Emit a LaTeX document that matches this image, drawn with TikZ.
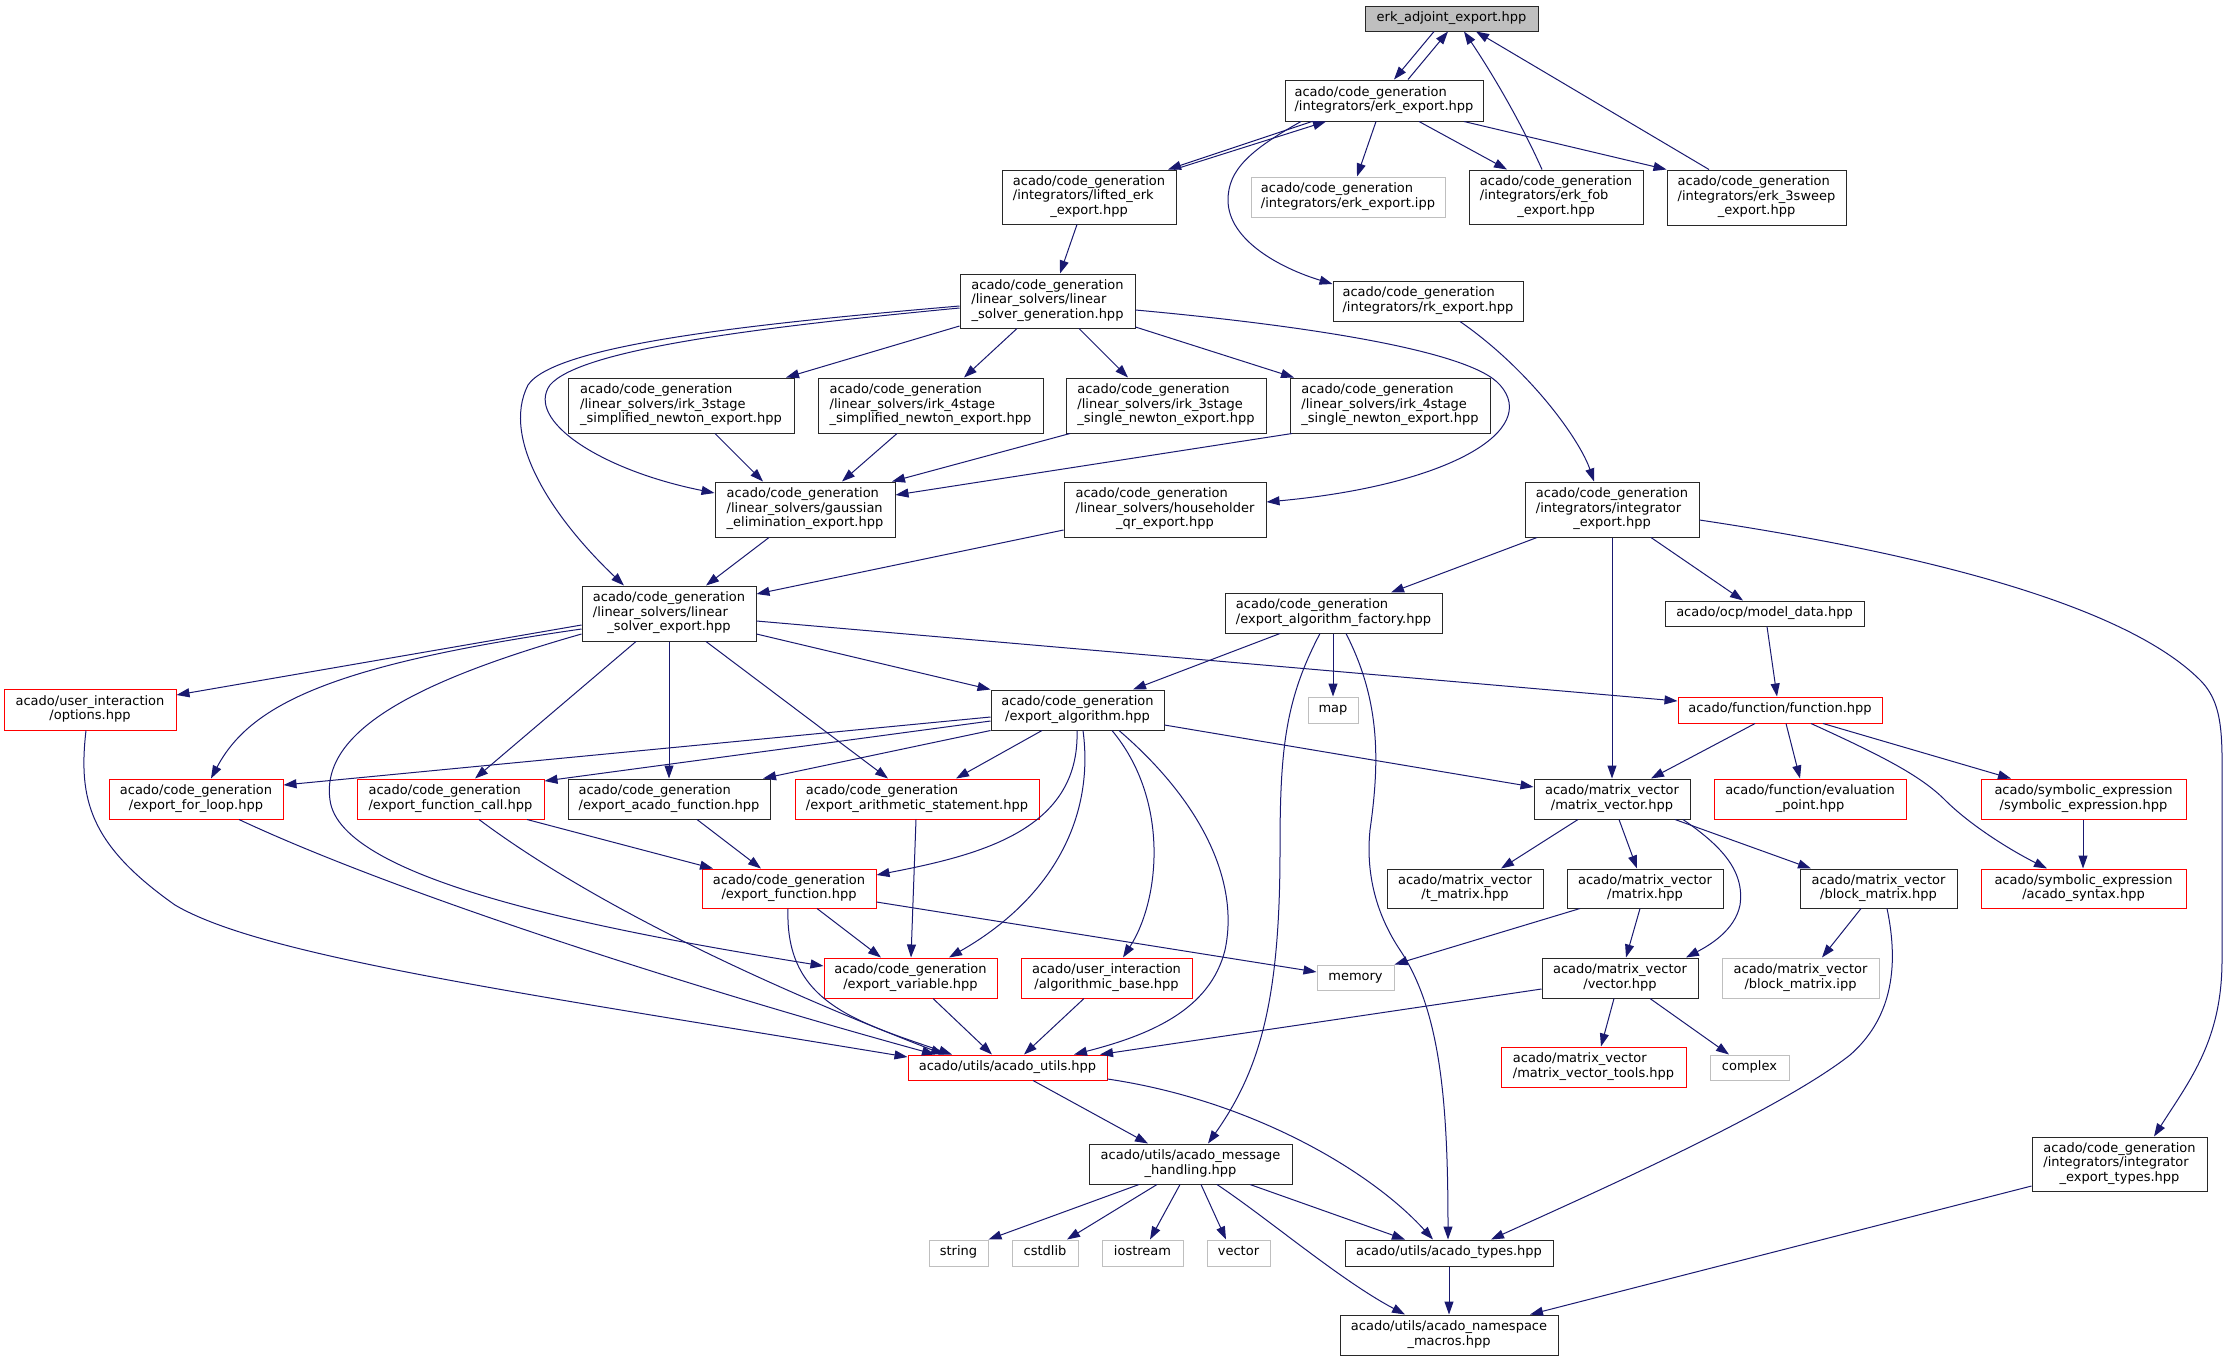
\documentclass[tikz,border=0pt]{standalone}
\usepackage{fontspec}
\setmainfont{DejaVu Sans}
\usetikzlibrary{arrows.meta}
\definecolor{edgec}{RGB}{25,25,112}
\definecolor{grayb}{RGB}{191,191,191}
\definecolor{nodeb}{RGB}{40,40,40}
\newcommand\Tl[2]{\begin{tabular}{@{}l@{}}#1\\\multicolumn{1}{@{}c@{}}{#2}\end{tabular}}
\newcommand\Ts[1]{\begin{tabular}{@{}c@{}}#1\end{tabular}}
\newcommand\nodebox[7]{\node[#1, minimum width={(#5-#3)*1pt}, minimum height={(#6-#4)*1pt}] (#2) at ({(#3+#5)/2},{(#4+#6)/2}) {#7};}
\tikzset{
  nb/.style={draw=nodeb, fill=white, line width=1pt, inner sep=0pt, font=\fontsize{13}{14.5}\selectfont},
  nr/.style={nb, draw=red},
  ng/.style={nb, draw=grayb},
  nroot/.style={nb, fill=grayb},
  e/.style={draw=edgec, line width=1pt, -{Triangle[length=13pt,width=9pt]}}
}
\begin{document}
\begin{tikzpicture}[x=1pt,y=-1pt]
\useasboundingbox[fill=white] (0,0) rectangle (2225,1361);
% nodes
\nodebox{nroot}{root}{1365}{6}{1538}{31}{\Ts{erk\_adjoint\_export.hpp}}
\nodebox{nb}{erk}{1285}{80}{1483}{121}{\Tl{acado/code\_generation}{/integrators/erk\_export.hpp}}
\nodebox{nb}{lifted}{1002}{170}{1176}{224}{\Tl{acado/code\_generation\\/integrators/lifted\_erk}{\_export.hpp}}
\nodebox{ng}{ipp}{1251}{177}{1445}{217}{\Tl{acado/code\_generation}{/integrators/erk\_export.ipp}}
\nodebox{nb}{fob}{1469}{170}{1643}{224}{\Tl{acado/code\_generation\\/integrators/erk\_fob}{\_export.hpp}}
\nodebox{nb}{sweep}{1667}{170}{1846}{225}{\Tl{acado/code\_generation\\/integrators/erk\_3sweep}{\_export.hpp}}
\nodebox{nb}{rk}{1333}{281}{1523}{321}{\Tl{acado/code\_generation}{/integrators/rk\_export.hpp}}
\nodebox{nb}{lsg}{960}{274}{1135}{328}{\Tl{acado/code\_generation\\/linear\_solvers/linear}{\_solver\_generation.hpp}}
\nodebox{nb}{i3s}{568}{378}{794}{433}{\Tl{acado/code\_generation\\/linear\_solvers/irk\_3stage}{\_simplified\_newton\_export.hpp}}
\nodebox{nb}{i4s}{818}{378}{1043}{433}{\Tl{acado/code\_generation\\/linear\_solvers/irk\_4stage}{\_simplified\_newton\_export.hpp}}
\nodebox{nb}{i3n}{1066}{378}{1266}{433}{\Tl{acado/code\_generation\\/linear\_solvers/irk\_3stage}{\_single\_newton\_export.hpp}}
\nodebox{nb}{i4n}{1290}{378}{1490}{433}{\Tl{acado/code\_generation\\/linear\_solvers/irk\_4stage}{\_single\_newton\_export.hpp}}
\nodebox{nb}{gauss}{715}{482}{895}{537}{\Tl{acado/code\_generation\\/linear\_solvers/gaussian}{\_elimination\_export.hpp}}
\nodebox{nb}{house}{1064}{482}{1266}{537}{\Tl{acado/code\_generation\\/linear\_solvers/householder}{\_qr\_export.hpp}}
\nodebox{nb}{ie}{1525}{482}{1699}{537}{\Tl{acado/code\_generation\\/integrators/integrator}{\_export.hpp}}
\nodebox{nb}{lse}{582}{586}{756}{641}{\Tl{acado/code\_generation\\/linear\_solvers/linear}{\_solver\_export.hpp}}
\nodebox{nb}{eaf}{1225}{593}{1442}{633}{\Tl{acado/code\_generation}{/export\_algorithm\_factory.hpp}}
\nodebox{nb}{model}{1665}{601}{1864}{626}{\Ts{acado/ocp/model\_data.hpp}}
\nodebox{nr}{options}{4}{689}{176}{730}{\Tl{acado/user\_interaction}{/options.hpp}}
\nodebox{nb}{ea}{991}{690}{1164}{730}{\Tl{acado/code\_generation}{/export\_algorithm.hpp}}
\nodebox{ng}{map}{1308}{697}{1358}{723}{\Ts{map}}
\nodebox{nr}{func}{1678}{697}{1882}{723}{\Ts{acado/function/function.hpp}}
\nodebox{nr}{forloop}{109}{779}{283}{819}{\Tl{acado/code\_generation}{/export\_for\_loop.hpp}}
\nodebox{nr}{fcall}{357}{779}{544}{819}{\Tl{acado/code\_generation}{/export\_function\_call.hpp}}
\nodebox{nb}{acadofn}{568}{779}{770}{819}{\Tl{acado/code\_generation}{/export\_acado\_function.hpp}}
\nodebox{nr}{arith}{795}{779}{1039}{819}{\Tl{acado/code\_generation}{/export\_arithmetic\_statement.hpp}}
\nodebox{nb}{mv}{1534}{779}{1690}{819}{\Tl{acado/matrix\_vector}{/matrix\_vector.hpp}}
\nodebox{nr}{evalpt}{1714}{779}{1906}{819}{\Tl{acado/function/evaluation}{\_point.hpp}}
\nodebox{nr}{symexpr}{1981}{779}{2186}{819}{\Tl{acado/symbolic\_expression}{/symbolic\_expression.hpp}}
\nodebox{nr}{efn}{702}{869}{876}{908}{\Tl{acado/code\_generation}{/export\_function.hpp}}
\nodebox{nb}{tmatrix}{1387}{869}{1543}{908}{\Tl{acado/matrix\_vector}{/t\_matrix.hpp}}
\nodebox{nb}{matrix}{1567}{869}{1723}{908}{\Tl{acado/matrix\_vector}{/matrix.hpp}}
\nodebox{nb}{blockm}{1800}{869}{1957}{908}{\Tl{acado/matrix\_vector}{/block\_matrix.hpp}}
\nodebox{nr}{syntax}{1981}{869}{2186}{908}{\Tl{acado/symbolic\_expression}{/acado\_syntax.hpp}}
\nodebox{nr}{evar}{824}{958}{997}{998}{\Tl{acado/code\_generation}{/export\_variable.hpp}}
\nodebox{nr}{algbase}{1021}{958}{1192}{998}{\Tl{acado/user\_interaction}{/algorithmic\_base.hpp}}
\nodebox{ng}{memory}{1317}{965}{1394}{990}{\Ts{memory}}
\nodebox{nb}{vec}{1542}{958}{1698}{998}{\Tl{acado/matrix\_vector}{/vector.hpp}}
\nodebox{ng}{bmipp}{1722}{958}{1879}{998}{\Tl{acado/matrix\_vector}{/block\_matrix.ipp}}
\nodebox{nr}{utils}{908}{1055}{1107}{1080}{\Ts{acado/utils/acado\_utils.hpp}}
\nodebox{nr}{mvtools}{1501}{1047}{1686}{1087}{\Tl{acado/matrix\_vector}{/matrix\_vector\_tools.hpp}}
\nodebox{ng}{complex}{1710}{1055}{1789}{1080}{\Ts{complex}}
\nodebox{nb}{msg}{1089}{1144}{1292}{1184}{\Tl{acado/utils/acado\_message}{\_handling.hpp}}
\nodebox{nb}{iet}{2032}{1137}{2207}{1191}{\Tl{acado/code\_generation\\/integrators/integrator}{\_export\_types.hpp}}
\nodebox{ng}{str}{929}{1240}{988}{1266}{\Ts{string}}
\nodebox{ng}{cstdlib}{1012}{1240}{1078}{1266}{\Ts{cstdlib}}
\nodebox{ng}{iostream}{1102}{1240}{1183}{1266}{\Ts{iostream}}
\nodebox{ng}{vectorstd}{1207}{1240}{1270}{1266}{\Ts{vector}}
\nodebox{nb}{types}{1345}{1240}{1553}{1266}{\Ts{acado/utils/acado\_types.hpp}}
\nodebox{nb}{nsmacros}{1340}{1315}{1558}{1355}{\Tl{acado/utils/acado\_namespace}{\_macros.hpp}}
% edges: top
\draw[e] (root.south -| 1434,0) -- (erk.north -| 1394,0);
\draw[e] (erk.north -| 1408,0) -- (root.south -| 1448,0);
\draw[e] (fob.north -| 1542,0) .. controls (1520,120) and (1490,70) .. (root.south -| 1464,0);
\draw[e] (sweep.north -| 1709,0) -- (root.south -| 1476,0);
\draw[e] (erk.south -| 1312,0) -- (lifted.north -| 1168,0);
\draw[e] (lifted.north -| 1174,0) -- (erk.south -| 1326,0);
\draw[e] (erk.south -| 1376,0) -- (ipp.north -| 1357,0);
\draw[e] (erk.south -| 1419,0) -- (fob.north -| 1507,0);
\draw[e] (erk.south -| 1464,0) -- (sweep.north west);
\draw[e] (erk.south -| 1301,0) .. controls (1250,150) and (1228,170) .. (1228,200) .. controls (1228,240) and (1280,268) .. (rk.west |- 0,284);
\draw[e] (lifted.south -| 1077,0) -- (lsg.north -| 1060,0);
\draw[e] (rk.south -| 1460,0) .. controls (1530,370) and (1580,440) .. (ie.north -| 1594,0);
% lsg
\draw[e] (lsg.west |- 0,326) -- (i3s.north -| 786,0);
\draw[e] (lsg.south -| 1017,0) -- (i4s.north -| 964,0);
\draw[e] (lsg.south -| 1079,0) -- (i3n.north -| 1128,0);
\draw[e] (lsg.east |- 0,327) -- (i4n.north -| 1294,0);
\draw[e] (lsg.east |- 0,310) .. controls (1300,325) and (1470,350) .. (1500,385) .. controls (1540,430) and (1450,485) .. (house.east |- 0,502);
\draw[e] (lsg.west |- 0,308) .. controls (750,328) and (580,350) .. (550,385) .. controls (525,420) and (600,470) .. (gauss.west |- 0,493);
\draw[e] (lsg.west |- 0,306) .. controls (750,324) and (555,345) .. (528,385) .. controls (500,440) and (555,520) .. (lse.north -| 624,0);
\draw[e] (gauss.south -| 769,0) -- (lse.north -| 706,0);
\draw[e] (house.west |- 0,530) -- (lse.east |- 0,594);
\draw[e] (i3s.south -| 715,0) -- (gauss.north -| 763,0);
\draw[e] (i4s.south -| 897,0) -- (gauss.north -| 842,0);
\draw[e] (i3n.south -| 1070,0) -- (gauss.north -| 892,0);
\draw[e] (i4n.south -| 1292,0) -- (gauss.east |- 0,495);
% lse
\draw[e] (lse.west |- 0,625) -- (options.east |- 0,695);
\draw[e] (lse.west |- 0,629) .. controls (330,665) and (250,705) .. (forloop.north -| 211,0);
\draw[e] (lse.west |- 0,634) .. controls (420,680) and (320,730) .. (330,800) .. controls (340,880) and (600,930) .. (evar.west |- 0,966);
\draw[e] (lse.south -| 636,0) -- (fcall.north -| 475,0);
\draw[e] (lse.south -| 669,0) -- (acadofn.north -| 669,0);
\draw[e] (lse.south -| 706,0) -- (arith.north -| 888,0);
\draw[e] (lse.east |- 0,634) -- (ea.north west);
\draw[e] (lse.east |- 0,621) -- (func.west |- 0,701);
% to utils etc
\draw[e] (options.south -| 86,0) .. controls (78,800) and (90,845) .. (175,905) .. controls (260,955) and (500,990) .. (utils.west |- 0,1057);
\draw[e] (forloop.south -| 239,0) .. controls (400,895) and (700,990) .. (utils.north -| 935,0);
\draw[e] (fcall.south -| 479,0) .. controls (560,880) and (700,960) .. (utils.north -| 944,0);
\draw[e] (fcall.south -| 527,0) -- (efn.north -| 713,0);
\draw[e] (efn.south -| 817,0) -- (evar.north -| 881,0);
\draw[e] (efn.south -| 788,0) .. controls (785,1000) and (850,1020) .. (utils.north -| 952,0);
\draw[e] (efn.east |- 0,902) -- (memory.west |- 0,972);
\draw[e] (arith.south -| 916,0) -- (evar.north -| 911,0);
\draw[e] (acadofn.south -| 697,0) -- (efn.north -| 761,0);
\draw[e] (evar.south -| 933,0) -- (utils.north -| 992,0);
\draw[e] (algbase.south -| 1084,0) -- (utils.north -| 1024,0);
% ea
\draw[e] (ea.west |- 0,717) -- (forloop.east |- 0,785);
\draw[e] (ea.west |- 0,721) -- (fcall.east |- 0,781);
\draw[e] (ea.south west) -- (acadofn.north -| 763,0);
\draw[e] (ea.south -| 1042,0) -- (arith.north -| 956,0);
\draw[e] (ea.south -| 1077,0) .. controls (1080,830) and (980,855) .. (efn.east |- 0,875);
\draw[e] (ea.south -| 1083,0) .. controls (1095,820) and (1050,900) .. (evar.north -| 949,0);
\draw[e] (ea.south -| 1112,0) .. controls (1170,800) and (1160,900) .. (algbase.north -| 1123,0);
\draw[e] (ea.south -| 1119,0) .. controls (1200,800) and (1240,880) .. (1225,950) .. controls (1210,1010) and (1150,1035) .. (utils.north -| 1074,0);
\draw[e] (ea.east |- 0,725) -- (mv.west |- 0,787);
% eaf
\draw[e] (eaf.south -| 1280,0) -- (ea.north -| 1133,0);
\draw[e] (eaf.south -| 1333,0) -- (map.north -| 1333,0);
\draw[e] (eaf.south -| 1320,0) .. controls (1285,700) and (1280,750) .. (1280,850) .. controls (1280,1000) and (1260,1070) .. (msg.north -| 1208,0);
\draw[e] (eaf.south -| 1346,0) .. controls (1380,700) and (1380,760) .. (1370,830) .. controls (1365,880) and (1380,920) .. (1400,950) .. controls (1440,1010) and (1448,1100) .. (types.north -| 1448,0);
% ie
\draw[e] (ie.south -| 1537,0) -- (eaf.north -| 1391,0);
\draw[e] (ie.south -| 1612,0) -- (mv.north -| 1612,0);
\draw[e] (ie.south -| 1651,0) -- (model.north -| 1743,0);
\draw[e] (ie.east |- 0,520) .. controls (1900,550) and (2120,600) .. (2200,680) .. controls (2225,705) and (2222,740) .. (2222,800) -- (2222,960) .. controls (2222,1040) and (2190,1080) .. (iet.north -| 2154,0);
% function
\draw[e] (model.south -| 1767,0) -- (func.north -| 1777,0);
\draw[e] (func.south -| 1755,0) -- (mv.north -| 1651,0);
\draw[e] (func.south -| 1786,0) -- (evalpt.north -| 1800,0);
\draw[e] (func.south -| 1823,0) -- (symexpr.north -| 2011,0);
\draw[e] (func.south -| 1811,0) .. controls (1880,755) and (1920,775) .. (1945,800) .. controls (1970,825) and (2010,850) .. (syntax.north -| 2047,0);
\draw[e] (symexpr.south -| 2083,0) -- (syntax.north -| 2083,0);
% matrix vector
\draw[e] (mv.south -| 1578,0) -- (tmatrix.north -| 1501,0);
\draw[e] (mv.south -| 1619,0) -- (matrix.north -| 1637,0);
\draw[e] (mv.south -| 1675,0) -- (blockm.north -| 1811,0);
\draw[e] (mv.south -| 1683,0) .. controls (1720,845) and (1745,870) .. (1740,905) .. controls (1735,930) and (1710,945) .. (vec.north -| 1686,0);
\draw[e] (matrix.south -| 1580,0) -- (memory.north east);
\draw[e] (matrix.south -| 1640,0) -- (vec.north -| 1626,0);
\draw[e] (blockm.south -| 1861,0) -- (bmipp.north -| 1822,0);
\draw[e] (blockm.south -| 1887,0) .. controls (1900,970) and (1890,1020) .. (1850,1055) .. controls (1780,1110) and (1600,1190) .. (types.north -| 1491,0);
\draw[e] (vec.west |- 0,989) -- (utils.north -| 1100,0);
\draw[e] (vec.south -| 1614,0) -- (mvtools.north -| 1601,0);
\draw[e] (vec.south -| 1650,0) -- (complex.north -| 1729,0);
% utils / msg
\draw[e] (utils.south -| 1033,0) -- (msg.north -| 1148,0);
\draw[e] (utils.east |- 0,1079) .. controls (1250,1100) and (1370,1170) .. (types.north -| 1433,0);
\draw[e] (msg.south -| 1139,0) -- (str.north east);
\draw[e] (msg.south -| 1157,0) -- (cstdlib.north -| 1067,0);
\draw[e] (msg.south -| 1180,0) -- (iostream.north -| 1150,0);
\draw[e] (msg.south -| 1201,0) -- (vectorstd.north -| 1226,0);
\draw[e] (msg.south -| 1217,0) .. controls (1270,1220) and (1340,1280) .. (nsmacros.north -| 1405,0);
\draw[e] (msg.south -| 1250,0) -- (types.north -| 1405,0);
\draw[e] (types.south -| 1449,0) -- (nsmacros.north -| 1449,0);
\draw[e] (iet.west |- 0,1186) -- (nsmacros.north -| 1530,0);
\end{tikzpicture}
\end{document}
